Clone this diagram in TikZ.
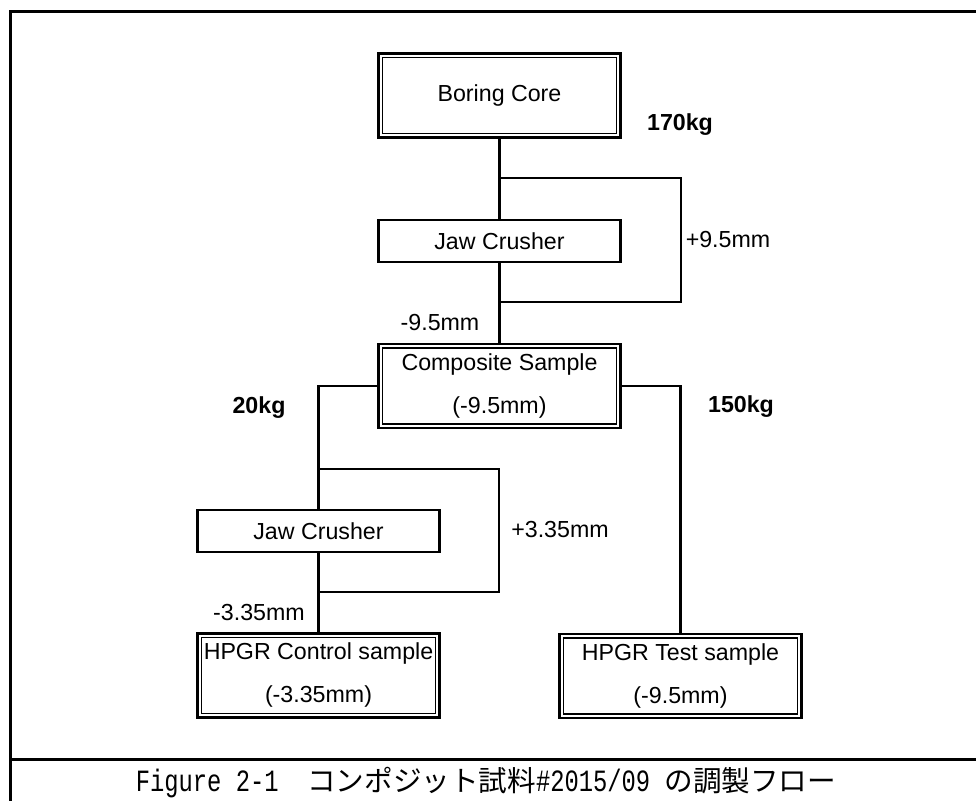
\documentclass[tikz,border=0pt]{standalone}
\usepackage{graphicx}
\usepackage{fontspec}
\setmainfont{Liberation Sans}
\newfontfamily\cjkfont{Noto Sans CJK JP}
\newfontfamily\monofont{Liberation Mono}
\newcommand{\capmono}[1]{\scalebox{1}[1.3]{\fontsize{11.9}{14}\monofont #1}}
\begin{document}
\begin{tikzpicture}[x=0.5pt,y=-0.5pt,
  every node/.style={inner sep=0pt,outer sep=0pt},
  txt/.style={font=\fontsize{11.6}{21.5}\selectfont},
  boldtxt/.style={font=\fontsize{11.6}{14}\selectfont\bfseries},
  dbox/.style={draw,line width=1.2pt,
    minimum width=121pt,minimum height=42pt,align=center,
    font=\fontsize{11.6}{21.5}\selectfont},
  inbox/.style={line width=0.7pt},
  sbox/.style={draw,line width=1.1pt,minimum width=121pt,minimum height=21pt,
    font=\fontsize{11.6}{14}\selectfont},
  conn/.style={line width=1.05pt},
  frame/.style={line width=1.5pt}]
\useasboundingbox (0,0) rectangle (976,801);
% frame
\draw[frame] (976,12) -- (10,12) -- (10,801);
\draw[frame] (10,760) -- (976,760);
% boxes
\node[dbox] (bc) at (499.5,95.5) {Boring Core};
\node[sbox] (jc1) at (499.5,241) {Jaw Crusher};
\node[dbox] (cs) at (499.5,386) {Composite Sample\\(-9.5mm)};
\node[sbox] (jc2) at (318.5,531) {Jaw Crusher};
\node[dbox] (hc) at (318.5,675.5) {HPGR Control sample\\(-3.35mm)};
\node[dbox] (ht) at (680.5,676) {HPGR Test sample\\(-9.5mm)};
\foreach \b in {bc,cs,hc,ht}
  \draw[inbox] ([shift={(4,4)}]\b.north west) rectangle ([shift={(-4,-4)}]\b.south east);
% bypass corners
\coordinate (a1) at (499.5,178);
\coordinate (a2) at (681,178);
\coordinate (a3) at (681,302);
\coordinate (a4) at (499.5,302);
\coordinate (b1) at (318.5,469);
\coordinate (b2) at (499,469);
\coordinate (b3) at (499,592);
\coordinate (b4) at (318.5,592);
% connectors
\draw[conn] (bc.south) -- (jc1.north);
\draw[conn] (a1) -- (a2) -- (a3) -- (a4);
\draw[conn] (jc1.south) -- (cs.north);
\draw[conn] (cs.west) -| (jc2.north);
\draw[conn] (b1) -- (b2) -- (b3) -- (b4);
\draw[conn] (jc2.south) -- (hc.north);
\draw[conn] (cs.east) -| (ht.north);
% labels
\node[boldtxt] (l170) at (680,125) {170kg};
\node[txt] (lp95) at (728,240) {+9.5mm};
\node[txt] (lm95) at (440,323) {-9.5mm};
\node[boldtxt] (l20) at (259,408) {20kg};
\node[boldtxt] (l150) at (741,407) {150kg};
\node[txt] (lp335) at (560,530) {+3.35mm};
\node[txt] (lm335) at (259,613) {-3.35mm};
% caption
\node (cap) at (486,783) {\capmono{Figure 2-1}\hspace{14.3pt}{\fontsize{14.3}{16}\cjkfont コンポジット試料}\capmono{\#2015/09 }{\fontsize{14.3}{16}\cjkfont の調製フロー}};
\end{tikzpicture}
\end{document}
